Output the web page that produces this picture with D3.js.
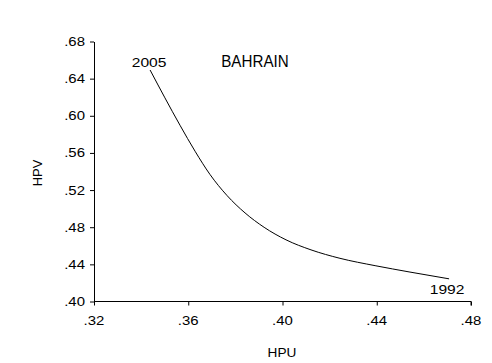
<!DOCTYPE html>
<html>
<head>
<meta charset="utf-8">
<script src="https://cdn.jsdelivr.net/npm/d3@7"></script>
<style>
  body { margin: 0; background: #fff; }
  svg { display: block; font-family: "Liberation Sans", Arial, sans-serif; }
</style>
</head>
<body>
<svg id="chart" width="492" height="363"></svg>
<script>
// Bahrain: HP filtered series, yearly points
const years = [1992, 1993, 1994, 1995, 1996, 1997, 1998, 1999, 2000, 2001, 2002, 2003, 2004, 2005];
const hpu = [0.4707, 0.4541, 0.4393, 0.4244, 0.4121, 0.4015, 0.3922, 0.3841, 0.3765, 0.3692, 0.3629, 0.3565, 0.3501, 0.3438];
const hpv = [0.4244, 0.4317, 0.4386, 0.4465, 0.4556, 0.4664, 0.4799, 0.4954, 0.5140, 0.5369, 0.5618, 0.5898, 0.6193, 0.6493];
const xTicks = [0.32, 0.36, 0.40, 0.44, 0.48];
const yTicks = [0.40, 0.44, 0.48, 0.52, 0.56, 0.60, 0.64, 0.68];

const svg = d3.select("#chart");
const x = d3.scaleLinear().domain([0.32, 0.48]).range([94, 471]);
const y = d3.scaleLinear().domain([0.40, 0.68]).range([301.5, 41.5]);
const fmt = d => d3.format(".2f")(d).replace(/^0/, "");
const FONT = "'Liberation Sans', Arial, sans-serif";

// text with a slight horizontal stretch
function label(px, py, str, size, anchor, sx) {
  return svg.append("text")
    .attr("transform", `translate(${px},${py}) scale(${sx},1)`)
    .attr("text-anchor", anchor)
    .style("font-family", FONT)
    .style("font-size", size + "px")
    .attr("fill", "#000")
    .text(str);
}

const xAxis = svg.append("g").attr("transform", "translate(0,301.5)")
  .call(d3.axisBottom(x).tickValues(xTicks).tickFormat("").tickSize(4).tickSizeOuter(0));
const yAxis = svg.append("g").attr("transform", "translate(94,0)")
  .call(d3.axisLeft(y).tickValues(yTicks).tickFormat("").tickSize(4).tickSizeOuter(0));
[xAxis, yAxis].forEach(a => {
  a.selectAll("path, line").attr("stroke", "#000").attr("stroke-width", 1);
});
xAxis.select(".domain").attr("d", "M94,0H471V4");

xTicks.forEach(t => label(x(t), 325, fmt(t), 13, "middle", 1.15));
yTicks.forEach(t => label(85, y(t) + 4.5, fmt(t), 13, "end", 1.15));

const pts = years.map((yr, i) => [hpu[i], hpv[i]]);
svg.append("path")
  .datum(pts)
  .attr("fill", "none")
  .attr("stroke", "#000")
  .attr("stroke-width", 1)
  .attr("d", d3.line().x(d => x(d[0])).y(d => y(d[1])).curve(d3.curveMonotoneX));

// end labels
const first = 0, last = years.length - 1;
label(x(hpu[last]) - 1, y(hpv[last]) - 3, years[last], 13, "middle", 1.2);
label(x(hpu[first]) - 2, y(hpv[first]) + 15, years[first], 13, "middle", 1.2);

label(255, 67, "BAHRAIN", 16, "middle", 0.95);
label(282, 357, "HPU", 13, "middle", 1.05);
svg.append("text").attr("transform", "translate(42,173) rotate(-90)").attr("text-anchor", "middle")
  .style("font-family", FONT).style("font-size", "13px").text("HPV");
</script>
</body>
</html>
